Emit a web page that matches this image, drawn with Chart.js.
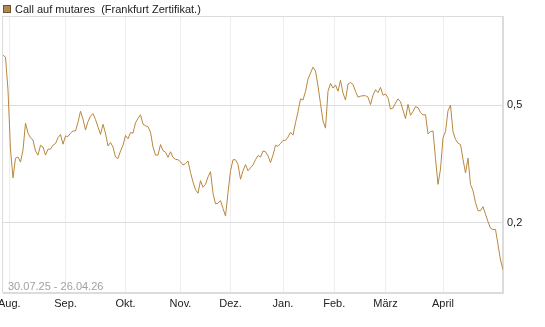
<!DOCTYPE html>
<html>
<head>
<meta charset="utf-8">
<script src="https://cdn.jsdelivr.net/npm/chart.js@4.4.1/dist/chart.umd.min.js"></script>
<style>
  html, body { margin: 0; padding: 0; background: #fff; }
</style>
</head>
<body>
<canvas id="chart" width="545" height="327"></canvas>
<script>
// Series data (one point per trading day, 30.07.25 - 26.04.26)
const seriesName = 'Call auf mutares  (Frankfurt Zertifikat.)';
const rangeText = '30.07.25 - 26.04.26';
const monthLabels = ['Aug.', 'Sep.', 'Okt.', 'Nov.', 'Dez.', 'Jan.', 'Feb.', 'März', 'April'];
const monthIdx = [2.5, 25, 49, 71, 91, 112, 132.5, 153, 176];
const yTicks = [0.2, 0.5];
const prices = [
    0.737, 0.726, 0.562, 0.353, 0.284, 0.331, 0.334, 0.321, 0.353, 0.435,
    0.402, 0.388, 0.381, 0.350, 0.339, 0.366, 0.361, 0.339, 0.355, 0.355,
    0.366, 0.371, 0.388, 0.398, 0.369, 0.393, 0.392, 0.402, 0.409, 0.409,
    0.438, 0.477, 0.448, 0.412, 0.440, 0.459, 0.468, 0.447, 0.422, 0.398,
    0.431, 0.402, 0.364, 0.374, 0.361, 0.334, 0.330, 0.350, 0.366, 0.395,
    0.385, 0.404, 0.402, 0.436, 0.451, 0.464, 0.431, 0.426, 0.423, 0.405,
    0.361, 0.339, 0.339, 0.368, 0.351, 0.347, 0.333, 0.348, 0.333, 0.328,
    0.327, 0.322, 0.314, 0.317, 0.324, 0.296, 0.275, 0.259, 0.252, 0.278,
    0.264, 0.270, 0.286, 0.298, 0.252, 0.232, 0.233, 0.238, 0.224, 0.211,
    0.253, 0.300, 0.327, 0.327, 0.315, 0.281, 0.300, 0.315, 0.300, 0.307,
    0.314, 0.327, 0.338, 0.334, 0.350, 0.348, 0.337, 0.320, 0.339, 0.366,
    0.363, 0.371, 0.380, 0.380, 0.390, 0.405, 0.396, 0.436, 0.475, 0.525,
    0.520, 0.557, 0.612, 0.641, 0.672, 0.652, 0.580, 0.506, 0.442, 0.418,
    0.557, 0.592, 0.571, 0.585, 0.557, 0.607, 0.549, 0.520, 0.589, 0.596,
    0.587, 0.557, 0.532, 0.536, 0.538, 0.538, 0.532, 0.502, 0.540, 0.564,
    0.551, 0.574, 0.540, 0.545, 0.529, 0.485, 0.489, 0.508, 0.525, 0.513,
    0.481, 0.450, 0.503, 0.462, 0.476, 0.494, 0.490, 0.472, 0.464, 0.464,
    0.400, 0.407, 0.409, 0.330, 0.270, 0.304, 0.388, 0.407, 0.479, 0.500,
    0.407, 0.383, 0.372, 0.368, 0.328, 0.295, 0.331, 0.270, 0.257, 0.234,
    0.220, 0.220, 0.227, 0.214, 0.202, 0.192, 0.190, 0.190, 0.169, 0.150,
    0.139
];

const lineColor = '#b8883f';
Chart.defaults.font.family = '"Liberation Sans", Arial, sans-serif';
Chart.defaults.font.size = 11;

// Frame around the plot, legend entry and date range text
const decorations = {
    id: 'decorations',
    beforeDatasetsDraw(chart) {
        const { ctx, chartArea: a } = chart;
        ctx.save();
        ctx.strokeStyle = '#dcdcdc';
        ctx.lineWidth = 1;
        ctx.strokeRect(Math.round(a.left) - 0.5, Math.round(a.top) + 0.5,
            Math.round(a.right - a.left), Math.round(a.bottom - a.top) - 1);
        ctx.font = '11px "Liberation Sans", Arial, sans-serif';
        ctx.fillStyle = '#a0a0a0';
        ctx.textBaseline = 'middle';
        ctx.fillText(rangeText, a.left + 5, a.bottom - 6);
        ctx.restore();
    },
    afterDraw(chart) {
        const ctx = chart.ctx;
        ctx.save();
        ctx.fillStyle = '#b08a52';
        ctx.fillRect(3, 5, 8, 8);
        ctx.strokeStyle = '#6e5330';
        ctx.lineWidth = 1;
        ctx.strokeRect(3.5, 5.5, 7, 7);
        ctx.font = '11px "Liberation Sans", Arial, sans-serif';
        ctx.fillStyle = '#222';
        ctx.textBaseline = 'middle';
        ctx.fillText(seriesName, 15, 9.5);
        ctx.restore();
    },
};

new Chart(document.getElementById('chart').getContext('2d'), {
    type: 'line',
    data: {
        datasets: [{
            label: seriesName,
            data: prices.map((p, i) => ({ x: i, y: p })),
            borderColor: lineColor,
            borderWidth: 1,
            pointRadius: 0,
            tension: 0,
            fill: false,
        }],
    },
    options: {
        responsive: false,
        animation: false,
        layout: { padding: { top: 16, left: 3, right: 0, bottom: 0 } },
        plugins: {
            legend: { display: false },
            tooltip: { enabled: false },
        },
        scales: {
            x: {
                type: 'linear',
                min: 0,
                max: prices.length - 1,
                afterBuildTicks: (s) => { s.ticks = monthIdx.map(v => ({ value: v })); },
                afterFit: (s) => { s.height = 34; s.paddingLeft = 0; s.paddingRight = 0; },
                ticks: {
                    autoSkip: false,
                    maxRotation: 0,
                    color: '#222',
                    padding: 4,
                    callback: (v, i) => monthLabels[i],
                },
                grid: { color: '#eeeeee', drawTicks: false },
                border: { color: '#dcdcdc' },
            },
            y: {
                type: 'logarithmic',
                position: 'right',
                min: 0.116,
                max: 1,
                afterBuildTicks: (s) => { s.ticks = yTicks.map(v => ({ value: v })); },
                afterFit: (s) => { s.width = 42; s.paddingTop = 0; s.paddingBottom = 0; },
                ticks: {
                    color: '#222',
                    padding: 4,
                    callback: (v) => String(v).replace('.', ','),
                },
                grid: { color: '#dcdcdc', drawTicks: false },
                border: { color: '#dcdcdc' },
            },
        },
    },
    plugins: [decorations],
});
</script>
</body>
</html>
